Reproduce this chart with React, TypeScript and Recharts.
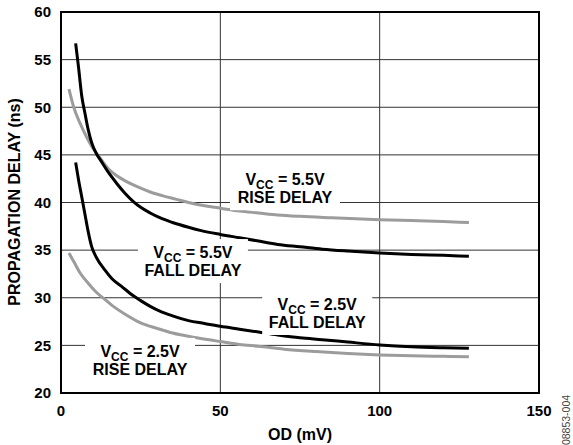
import React from 'react';
import {
  LineChart,
  Line,
  XAxis,
  YAxis,
  CartesianGrid,
  ReferenceDot,
  ReferenceArea,
} from 'recharts';

// OD (mV) vs propagation delay (ns)
const fall55Od = [4.6, 5.5, 6.5, 7.5, 8.5, 9.6, 11, 12.5, 15, 17.5, 20, 22.7, 25, 28, 31, 35, 40, 44, 50, 56, 62, 68, 75, 82, 90, 100, 110, 120, 128];
const fall55Ns = [56.7, 54.2, 51.2, 49.4, 47.7, 46.3, 45.2, 44.4, 43.1, 42.0, 41.0, 40.1, 39.5, 38.9, 38.4, 37.9, 37.4, 37.05, 36.65, 36.3, 35.95, 35.6, 35.35, 35.1, 34.9, 34.7, 34.55, 34.45, 34.35];

const rise55Od = [2.5, 4, 6, 8, 10, 12, 15, 18, 21.7, 25, 28, 32, 36, 40, 46, 50, 56, 62, 68, 75, 85, 100, 110, 120, 128];
const rise55Ns = [51.9, 50.0, 48.3, 46.9, 45.7, 44.8, 43.5, 42.7, 42.0, 41.5, 41.1, 40.7, 40.35, 40.0, 39.6, 39.4, 39.1, 38.9, 38.7, 38.55, 38.4, 38.2, 38.1, 38.0, 37.9];

const fall25Od = [4.6, 5.5, 6.5, 7.5, 8.5, 9.6, 11, 13.8, 16, 19, 22.7, 25, 28, 31, 35, 40, 45, 50, 56, 62, 68, 75, 82, 90, 100, 110, 120, 128];
const fall25Ns = [44.2, 42.4, 40.6, 38.8, 37.0, 35.4, 34.3, 32.9, 32.0, 31.2, 30.2, 29.7, 29.1, 28.6, 28.1, 27.6, 27.3, 27.0, 26.7, 26.4, 26.1, 25.8, 25.6, 25.35, 25.05, 24.85, 24.75, 24.7];

const rise25Od = [2.5, 4, 6, 8.6, 11, 13.5, 16, 20, 24.8, 30, 35, 42.6, 50, 56, 62, 70, 80, 90, 100, 110, 120, 128];
const rise25Ns = [34.7, 33.8, 32.6, 31.5, 30.6, 29.9, 29.2, 28.3, 27.4, 26.8, 26.3, 25.8, 25.4, 25.1, 24.9, 24.6, 24.35, 24.15, 24.0, 23.9, 23.85, 23.8];

const xTicks = [0, 50, 100, 150];
const yTicks = [20, 25, 30, 35, 40, 45, 50, 55, 60];

const toPoints = (od: number[], ns: number[]) => od.map((x, i) => ({ od: x, ns: ns[i] }));

const FONT = '"Liberation Sans", Arial, Helvetica, sans-serif';
const GRAY = '#9c9c9c';

function delayLabel(vcc: string, kind: string) {
  return (props: any) => {
    const { cx, cy } = props;
    return (
      <g>
        <rect x={cx - 55} y={cy - 22} width={110} height={44} fill="#fff" />
        <text x={cx} y={cy - 3} textAnchor="middle" fontSize={16} fontWeight="bold" fontFamily={FONT} fill="#000">
          <tspan>V</tspan>
          <tspan fontSize={12} dy={4}>CC</tspan>
          <tspan dy={-4}>{` = ${vcc}`}</tspan>
        </text>
        <text x={cx} y={cy + 15} textAnchor="middle" fontSize={16} fontWeight="bold" fontFamily={FONT} fill="#000">
          {`${kind} DELAY`}
        </text>
      </g>
    );
  };
}

function Titles() {
  return (
    <g fontFamily={FONT}>
      <text x={300} y={440} textAnchor="middle" fontSize={16} fontWeight="bold" fill="#000">
        OD (mV)
      </text>
      <text
        x={0}
        y={0}
        transform="translate(20 202) rotate(-90)"
        textAnchor="middle"
        fontSize={16}
        fontWeight="bold"
        fill="#000"
      >
        PROPAGATION DELAY (ns)
      </text>
      <text x={0} y={0} transform="translate(570 420) rotate(-90)" textAnchor="middle" fontSize={10.5} fill="#444">
        08853-004
      </text>
    </g>
  );
}

export default function App() {
  const tickStyle = { fontSize: 15, fontWeight: 'bold', fill: '#000', fontFamily: FONT };
  return (
    <div style={{ position: 'absolute', left: 0, top: 0, background: '#fff' }}>
      <LineChart width={573} height={445} margin={{ top: 12, right: 34, bottom: 0, left: 0 }}>
        <CartesianGrid stroke="#333" strokeWidth={1} />
        <XAxis
          type="number"
          dataKey="od"
          domain={[0, 150]}
          ticks={xTicks}
          height={52}
          axisLine={false}
          tickLine={false}
          tickSize={0}
          tickMargin={12}
          tick={tickStyle}
          label={() => <Titles />}
        />
        <YAxis
          type="number"
          dataKey="ns"
          domain={[20, 60]}
          ticks={yTicks}
          width={61}
          axisLine={false}
          tickLine={false}
          tickSize={0}
          tickMargin={10}
          tick={tickStyle}
        />
        <ReferenceDot x={70.3} y={41.5} r={0} ifOverflow="visible" shape={delayLabel('5.5V', 'RISE')} />
        <ReferenceDot x={41.4} y={33.85} r={0} ifOverflow="visible" shape={delayLabel('5.5V', 'FALL')} />
        <ReferenceDot x={80.4} y={28.4} r={0} ifOverflow="visible" shape={delayLabel('2.5V', 'FALL')} />
        <ReferenceDot x={24.8} y={23.47} r={0} ifOverflow="visible" shape={delayLabel('2.5V', 'RISE')} />
        <Line data={toPoints(rise55Od, rise55Ns)} dataKey="ns" type="monotone" stroke={GRAY} strokeWidth={3} dot={false} isAnimationActive={false} />
        <Line data={toPoints(rise25Od, rise25Ns)} dataKey="ns" type="monotone" stroke={GRAY} strokeWidth={3} dot={false} isAnimationActive={false} />
        <Line data={toPoints(fall55Od, fall55Ns)} dataKey="ns" type="monotone" stroke="#000" strokeWidth={3} dot={false} isAnimationActive={false} />
        <Line data={toPoints(fall25Od, fall25Ns)} dataKey="ns" type="monotone" stroke="#000" strokeWidth={3} dot={false} isAnimationActive={false} />
        <ReferenceArea x1={0} x2={150} y1={20} y2={60} fill="none" stroke="#000" strokeWidth={2} ifOverflow="visible" />
      </LineChart>
    </div>
  );
}
